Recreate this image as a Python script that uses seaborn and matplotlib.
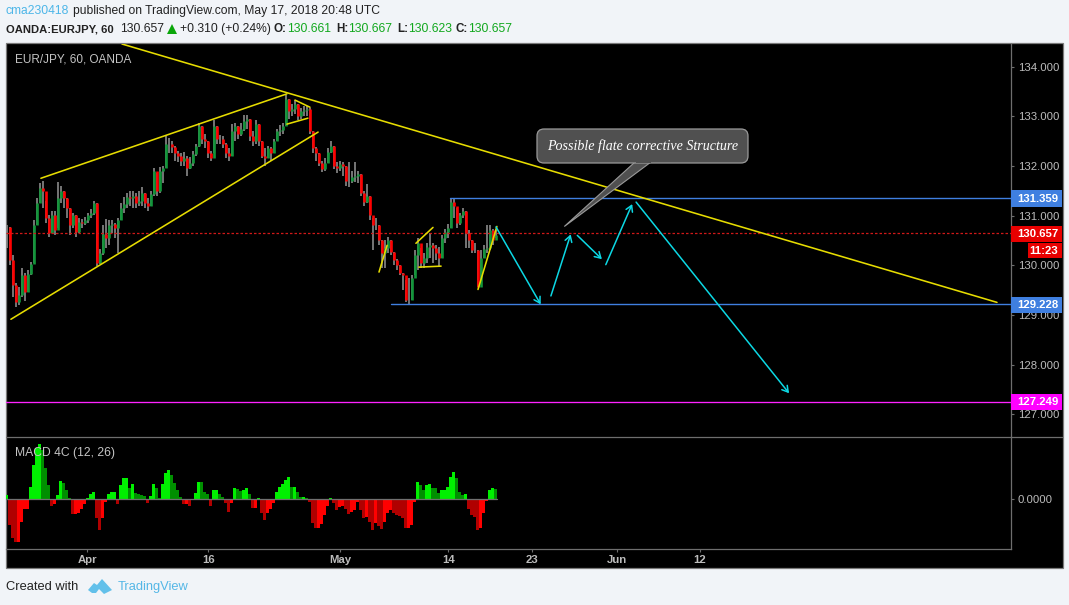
import numpy as np
import pandas as pd
import matplotlib
matplotlib.use("Agg")
import matplotlib.pyplot as plt
from matplotlib.patches import FancyBboxPatch, Polygon, Rectangle
import seaborn as sns

W, H = 1069, 605

close = [130.82,130.15,129.65,129.30,129.45,129.85,129.50,129.88,130.08,130.85,131.30,131.60,131.55,131.00,130.70,131.05,130.75,131.40,131.55,131.40,
131.20,130.85,131.05,130.72,130.92,130.90,130.95,131.05,131.10,131.30,130.10,130.30,130.68,130.60,130.85,130.88,130.80,130.95,131.20,131.28,
131.42,131.40,131.45,131.30,131.35,131.50,131.30,131.25,131.48,131.95,131.55,131.95,132.00,132.50,132.50,132.42,132.30,132.25,132.15,132.20,
132.00,132.10,132.28,132.45,132.85,132.60,132.55,132.30,132.20,132.85,132.60,132.60,132.50,132.30,132.25,132.75,132.85,132.70,132.80,132.95,
133.00,132.65,132.55,132.90,132.55,132.25,132.20,132.40,132.30,132.55,132.75,132.78,132.85,133.40,133.15,133.20,133.30,133.05,133.15,133.18,
133.20,132.75,132.40,132.30,132.10,131.98,132.10,132.32,132.45,132.05,132.00,132.08,132.05,131.75,131.75,131.82,131.85,131.88,131.50,131.32,
131.45,131.05,130.85,130.85,130.55,130.30,130.40,130.55,130.32,130.15,130.05,129.90,129.85,129.35,129.35,129.80,130.25,130.50,130.10,130.20,
130.42,130.45,130.40,130.30,130.20,130.60,130.72,130.80,131.32,131.25,130.90,131.05,131.15,130.70,130.55,130.35,130.35,129.60,130.20,130.38,
130.40,130.75,130.55,130.66]
high = [130.85,130.82,130.25,129.70,129.60,130.00,129.90,129.95,130.12,130.95,131.40,131.70,131.75,131.35,131.05,131.15,131.15,131.72,131.65,131.55,
131.40,131.20,131.10,131.05,131.00,130.98,131.02,131.10,131.18,131.35,131.30,130.38,130.85,130.98,130.95,130.95,130.90,131.00,131.30,131.42,
131.50,131.55,131.55,131.50,131.55,131.62,131.50,131.40,131.55,132.00,131.90,132.02,132.05,132.65,132.62,132.55,132.45,132.35,132.30,132.32,
132.25,132.22,132.35,132.50,132.92,132.85,132.70,132.55,132.35,132.97,132.85,132.68,132.65,132.52,132.40,132.90,132.92,132.85,132.92,133.08,
133.08,133.00,132.75,132.98,132.90,132.55,132.40,132.45,132.42,132.60,132.80,132.88,132.92,133.48,133.40,133.30,133.38,133.30,133.22,133.25,
133.25,133.22,132.75,132.42,132.30,132.15,132.20,132.40,132.55,132.45,132.12,132.15,132.12,132.05,132.12,131.95,132.12,131.95,131.88,131.55,
131.68,131.45,131.00,131.00,130.85,130.55,130.55,130.62,130.55,130.32,130.18,130.05,129.90,129.75,129.80,129.85,130.35,130.60,130.40,130.30,
130.50,130.70,130.50,130.45,130.42,130.65,130.78,130.88,131.38,131.38,131.20,131.10,131.20,131.15,130.75,130.55,130.50,130.35,130.35,130.45,
130.85,130.85,130.78,130.75]
low = [130.40,130.05,129.40,129.20,129.25,129.40,129.32,129.50,129.85,130.10,130.85,131.30,131.20,130.90,130.62,130.70,130.65,130.80,131.30,131.20,
131.00,130.65,130.80,130.62,130.70,130.80,130.85,130.90,131.00,131.05,130.03,130.08,130.25,130.40,130.45,130.70,130.60,130.30,130.95,131.10,
131.20,131.25,131.20,131.20,131.25,131.25,131.20,131.15,131.25,131.45,131.45,131.50,131.70,132.00,132.30,132.30,132.15,132.12,132.05,132.05,
131.85,131.98,132.05,132.25,132.42,132.50,132.40,132.20,132.15,132.30,132.50,132.50,132.40,132.20,132.15,132.25,132.55,132.60,132.65,132.75,
132.80,132.55,132.45,132.50,132.45,132.20,132.05,132.20,132.15,132.30,132.55,132.65,132.70,132.85,133.00,133.05,133.10,132.98,133.00,133.05,
133.05,132.70,132.30,132.15,132.05,131.92,131.95,132.10,132.30,131.98,131.90,131.95,131.85,131.65,131.62,131.70,131.72,131.70,131.45,131.25,
131.30,130.95,130.35,130.75,130.45,130.00,130.00,130.30,130.25,130.05,129.95,129.85,129.55,129.30,129.27,129.35,129.85,129.95,130.00,130.00,
130.10,130.20,130.10,130.15,130.03,130.20,130.50,130.60,130.80,131.00,130.80,130.85,131.00,130.40,130.40,130.30,130.30,129.60,129.70,130.20,
130.30,130.35,130.45,130.60]
macd = [0.013,-0.077,-0.117,-0.127,-0.127,-0.067,-0.029,-0.029,0.038,0.103,0.153,0.165,0.148,0.093,0.043,-0.020,-0.014,0.013,0.055,0.048,
0.028,0.003,-0.045,-0.045,-0.042,-0.029,-0.015,0.003,0.015,0.021,-0.057,-0.092,-0.057,-0.007,0.015,0.021,0.021,-0.014,0.043,0.063,
0.063,0.035,0.045,0.018,0.015,0.013,0.011,-0.012,0.011,0.045,0.033,0.003,0.045,0.078,0.088,0.073,0.048,0.028,0.008,-0.014,
-0.014,-0.020,-0.002,0.018,0.053,0.051,0.023,0.016,-0.020,0.028,0.028,0.015,0.008,-0.012,-0.037,-0.012,0.033,0.031,0.025,0.028,
0.033,0.015,-0.027,-0.027,0.003,-0.042,-0.062,-0.042,-0.029,-0.012,0.023,0.038,0.045,0.058,0.068,0.038,0.038,0.023,0.006,0.006,
0.003,-0.007,-0.072,-0.087,-0.085,-0.075,-0.047,-0.019,0.003,-0.012,-0.032,-0.022,-0.019,-0.029,-0.045,-0.039,-0.032,-0.007,-0.032,-0.057,
-0.052,-0.067,-0.092,-0.072,-0.079,-0.090,-0.067,-0.042,-0.032,-0.042,-0.047,-0.050,-0.057,-0.085,-0.085,-0.077,-0.007,0.053,0.043,0.028,
0.043,0.045,0.035,0.033,0.018,0.028,0.028,0.038,0.068,0.083,0.063,0.023,0.013,0.015,-0.029,-0.047,-0.052,-0.092,-0.087,-0.042,
-0.005,0.028,0.033,0.031]
READ_SHIFT = -0.046  # calibration of the readings above against the price ticks

tick_pos = [26.7, 67.1, 111.1, 147.1, 175.0, 203.2, 231.0]
tick_lab = ["Apr", "16", "May", "14", "23", "Jun", "12"]
price_ticks = [127, 128, 129, 130, 131, 132, 133, 134]

downtrend = ([38.33, 330.0], [134.458, 129.254])
yellow_lines = [
    ([11.3, 93.3], [131.754, 133.454]),
    ([1.3, 103.7], [128.914, 132.684]),
    ([96.0, 101.0], [133.329, 133.184]),
    ([93.3, 100.3], [132.844, 132.964]),
    ([124.0, 126.7], [129.864, 130.404]),
    ([136.3, 142.0], [130.444, 130.764]),
    ([137.3, 144.7], [129.964, 129.984]),
    ([157.0, 163.3], [129.514, 130.784]),
]
arrows = [
    ([163.0, 177.9], [130.774, 129.214]),
    ([181.3, 187.9], [129.384, 130.624]),
    ([190.1, 198.3], [130.604, 130.124]),
    ([199.6, 208.4], [130.014, 131.234]),
    ([209.7, 260.7], [131.274, 127.424]),
]
levels = [(131.359, 147.7, "#3f7fe0"), (129.228, 128.0, "#3f7fe0")]
last_price = 130.657
magenta_level = 127.249

sns.set_style("white")
plt.rcParams["font.family"] = ["Liberation Sans", "DejaVu Sans"]

fig = plt.figure(figsize=(W / 100, H / 100), dpi=100, facecolor="#f1f4f8")


def pane(x0, y0, x1, y1, z):
    return fig.add_axes([x0 / W, 1 - y1 / H, (x1 - x0) / W, (y1 - y0) / H], zorder=z)


chrome = pane(0, 0, W, H, 0)
chrome.set_xlim(0, W); chrome.set_ylim(H, 0); chrome.axis("off")
chrome.add_patch(Rectangle((6, 43), 1056.5, 525, fc="black", ec="#7a7a7a", lw=0.9))

ax = pane(6, 44, 1011, 436, 1)
ax.patch.set_alpha(0)
mx = pane(6, 437, 1011, 549, 1)
mx.patch.set_alpha(0)
GRAY = "#bcbcbc"
LINEC = "#6e6e6e"

# candles
pos = np.arange(len(close))
opens = [close[0]] + close[:-1]
wick = pd.DataFrame({"bar": np.r_[pos, pos], "price": np.array(high + low) + READ_SHIFT})
sns.lineplot(data=wick, x="bar", y="price", units="bar", estimator=None, color="#8a8a8a",
             lw=1.2, ax=ax, legend=False, solid_capstyle="butt")
body = pd.DataFrame({"bar": np.r_[pos, pos], "price": np.array(opens + close) + READ_SHIFT,
                     "dir": ["up" if c >= o else "down" for o, c in zip(opens, close)] * 2})
sns.lineplot(data=body, x="bar", y="price", units="bar", estimator=None, hue="dir",
             palette={"up": "#12963a", "down": "#ff0000"}, lw=1.9, ax=ax, legend=False,
             solid_capstyle="butt")

# drawn lines
ax.axhline(last_price, color="#d01818", lw=0.9, ls=(0, (2, 1.6)), zorder=2)
ax.axhline(magenta_level, color="#ff22ff", lw=0.95, zorder=2)
for level, start, col in levels:
    sns.lineplot(x=[start, 334.67], y=[level, level], color=col, lw=1.0, ax=ax, zorder=3)
for xs, ys in [downtrend] + yellow_lines:
    sns.lineplot(x=xs, y=ys, color="#e6dc00", lw=1.15, ax=ax, zorder=4)
for xs, ys in arrows:
    ax.annotate("", xy=(xs[1], ys[1]), xytext=(xs[0], ys[0]), zorder=5,
                arrowprops=dict(arrowstyle="->,head_length=0.42,head_width=0.25", color="#0cd8e4",
                                lw=1.1, shrinkA=0, shrinkB=0))

ax.set_xlim(-1 / 3, 334.67)
ax.set_ylim(126.563, 134.458)
ax.set_xlabel(""); ax.set_ylabel("")
ax.set_xticks([])
ax.yaxis.tick_right()
ax.set_yticks(price_ticks, [f"{t:.3f}" for t in price_ticks])
ax.tick_params(axis="y", right=True, length=2.3, width=0.8, color=LINEC, pad=2.7, labelcolor=GRAY,
               labelsize=8.2, labelfontfamily="Liberation Sans")
for s in ["left", "top", "bottom"]:
    ax.spines[s].set_visible(False)
ax.spines["right"].set_color(LINEC)
ax.spines["right"].set_linewidth(0.9)

# MACD
state = []
for k, v in enumerate(macd):
    prev = macd[k - 1] if k else v
    if v >= 0:
        state.append("up+" if v >= prev else "down+")
    else:
        state.append("up-" if v >= prev else "down-")
mdf = pd.DataFrame({"bar": pos, "macd": macd, "state": state})
sns.barplot(data=mdf, x="bar", y="macd", hue="state", dodge=False, native_scale=True, width=1.0,
            palette={"up+": "#00f000", "down+": "#008f00", "up-": "#ff0000", "down-": "#b00000"},
            saturation=1, linewidth=0, legend=False, ax=mx)
sns.lineplot(x=[-1 / 3, 163.5], y=[0, 0], color="#707070", lw=0.9, ax=mx, zorder=5)
mx.set_xlim(-1 / 3, 334.67)
mx.set_ylim(-0.149, 0.187)
mx.set_xlabel(""); mx.set_ylabel("")
mx.yaxis.tick_right()
mx.set_yticks([0], ["0.0000"])
mx.set_xticks(tick_pos, tick_lab)
mx.tick_params(axis="y", right=True, length=2.3, width=0.8, color=LINEC, pad=2.7, labelcolor=GRAY,
               labelsize=8.2, labelfontfamily="Liberation Sans")
mx.tick_params(axis="x", bottom=True, length=2, width=0.8, color=LINEC, pad=2, labelcolor=GRAY,
               labelsize=8.2, labelfontfamily="Liberation Sans")
for t in mx.get_xticklabels():
    t.set_fontweight("bold")
for s in ["left", "top"]:
    mx.spines[s].set_visible(False)
for s in ["right", "bottom"]:
    mx.spines[s].set_color(LINEC)
    mx.spines[s].set_linewidth(0.9)

# overlay in picture pixels
ov = pane(0, 0, W, H, 3)
ov.set_xlim(0, W); ov.set_ylim(H, 0); ov.axis("off"); ov.patch.set_alpha(0)

ov.plot([6, 1062], [436.5, 436.5], color=LINEC, lw=0.9)

BLACK = "#222222"
HF = 8.75


def txt(x, y, s, c=BLACK, w="normal", size=HF, fam=None, ha="left", style="normal"):
    ov.text(x, y, s, color=c, fontweight=w, fontsize=size, va="center", ha=ha, style=style,
            family=fam if fam else "Liberation Sans")


txt(6, 11, "cma230418", "#4db6e8")
txt(73, 11, "published on TradingView.com, May 17, 2018 20:48 UTC")
txt(6, 29, "OANDA:EURJPY, 60", w="bold", size=8.1)
txt(120, 29, "130.657")
ov.add_patch(Polygon([(167, 34), (177, 34), (172, 24)], fc="#0aa60a", ec="none"))
txt(180, 29, "+0.310 (+0.24%)")
GREEN = "#12a81e"
for lx, lab, vx, val in [(273, "O:", 287, "130.661"), (336, "H:", 348, "130.667"),
                         (397, "L:", 408, "130.623"), (456, "C:", 468, "130.657")]:
    txt(lx, 29, lab, w="bold", size=8.4)
    txt(vx, 29, val, GREEN)

txt(15, 60, "EUR/JPY, 60, OANDA", c="#c4c4c4", size=8.5)
txt(15, 453, "MACD 4C (12, 26)", c="#c4c4c4", size=8.7)
txt(6, 587, "Created with", size=9.3)
txt(118, 587, "TradingView", c="#55b7e6", size=9.3)
ov.add_patch(Polygon([(88, 590), (94, 583), (97, 585), (102, 579), (112, 590), (104, 594),
                      (99, 589), (96, 593), (92, 593)], fc="#62c0ea", ec="none"))

# price tags
for y0, y1, x0, col, s in [(190, 207, 1011, "#3f7fe0", "131.359"), (226, 242, 1011, "#e80000", "130.657"),
                           (243, 258, 1028, "#e80000", "11:23"), (297, 313, 1011, "#3f7fe0", "129.228"),
                           (394, 410, 1011, "#ff00ff", "127.249")]:
    ov.add_patch(Rectangle((x0, y0), 1062 - x0, y1 - y0, fc=col, ec="none"))
    txt(1058, (y0 + y1) / 2, s, c="white", w="bold", size=8.2, fam="Liberation Sans", ha="right")

# callout
ov.add_patch(Polygon([(635, 162), (651, 162), (564.3, 226.5)], fc="#505050", ec="#9a9a9a", lw=0.8, zorder=6))
ov.add_patch(FancyBboxPatch((541, 133), 203, 26, boxstyle="round,pad=4,rounding_size=7",
                            fc="#505050", ec="#9a9a9a", lw=0.9, zorder=6))
ov.add_patch(Rectangle((636, 158), 14.5, 5, fc="#505050", ec="none", zorder=7))
ov.text(643, 146, "Possible flate corrective Structure", color="white", fontsize=10.1, style="italic",
        family="Liberation Serif", va="center", ha="center", zorder=8)

fig.savefig("out.png", dpi=100, facecolor=fig.get_facecolor())
